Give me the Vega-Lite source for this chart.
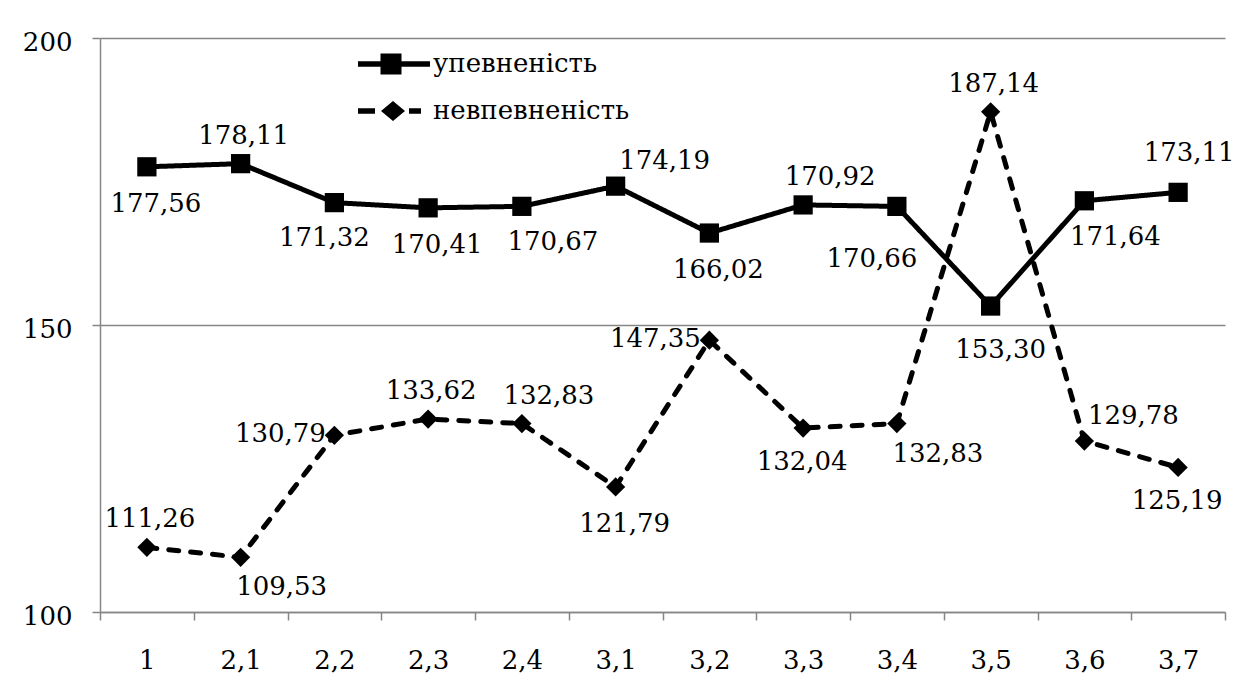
{
  "$schema": "https://vega.github.io/schema/vega-lite/v6.json",
  "autosize": {"type": "none"},
  "padding": {"left": 100, "top": 38, "right": 21, "bottom": 74},
  "width": 1125,
  "height": 574,
  "background": "white",
  "config": {
    "view": {"stroke": null},
    "locale": {"number": {"decimal": ",", "thousands": " ", "grouping": [3], "currency": ["", ""]}},
    "axis": {"labelFont": "DejaVu Serif", "labelFontSize": 26, "labelColor": "black", "domainColor": "#868686", "tickColor": "#868686", "gridColor": "#868686", "domainWidth": 1.5, "tickWidth": 1.5, "gridWidth": 1.5, "title": null},
    "legend": {"labelFont": "DejaVu Serif", "labelFontSize": 26, "labelColor": "black"},
    "text": {"font": "DejaVu Serif", "fontSize": 26, "color": "black", "align": "center", "baseline": "middle"}
  },
  "data": {"values": [
    {"c": "1", "s": "упевненість", "v": 177.56},
    {"c": "2,1", "s": "упевненість", "v": 178.11},
    {"c": "2,2", "s": "упевненість", "v": 171.32},
    {"c": "2,3", "s": "упевненість", "v": 170.41},
    {"c": "2,4", "s": "упевненість", "v": 170.67},
    {"c": "3,1", "s": "упевненість", "v": 174.19},
    {"c": "3,2", "s": "упевненість", "v": 166.02},
    {"c": "3,3", "s": "упевненість", "v": 170.92},
    {"c": "3,4", "s": "упевненість", "v": 170.66},
    {"c": "3,5", "s": "упевненість", "v": 153.30},
    {"c": "3,6", "s": "упевненість", "v": 171.64},
    {"c": "3,7", "s": "упевненість", "v": 173.11},
    {"c": "1", "s": "невпевненість", "v": 111.26},
    {"c": "2,1", "s": "невпевненість", "v": 109.53},
    {"c": "2,2", "s": "невпевненість", "v": 130.79},
    {"c": "2,3", "s": "невпевненість", "v": 133.62},
    {"c": "2,4", "s": "невпевненість", "v": 132.83},
    {"c": "3,1", "s": "невпевненість", "v": 121.79},
    {"c": "3,2", "s": "невпевненість", "v": 147.35},
    {"c": "3,3", "s": "невпевненість", "v": 132.04},
    {"c": "3,4", "s": "невпевненість", "v": 132.83},
    {"c": "3,5", "s": "невпевненість", "v": 187.14},
    {"c": "3,6", "s": "невпевненість", "v": 129.78},
    {"c": "3,7", "s": "невпевненість", "v": 125.19}
  ]},
  "encoding": {
    "x": {"field": "c", "type": "ordinal", "sort": null,
      "scale": {"type": "band", "domain": ["1","2,1","2,2","2,3","2,4","3,1","3,2","3,3","3,4","3,5","3,6","3,7"], "paddingInner": 0, "paddingOuter": 0},
      "axis": {"labelAngle": 0, "tickBand": "extent", "tickSize": 8, "labelPadding": 27, "grid": false}},
    "y": {"field": "v", "type": "quantitative",
      "scale": {"domain": [100, 200], "nice": false, "zero": false},
      "axis": {"values": [100, 150, 200], "format": "d", "tickSize": 8, "labelPadding": 20, "labelOffset": 4, "grid": true}}
  },
  "layer": [
    {
      "mark": {"type": "line", "color": "black", "strokeWidth": 5, "strokeCap": "round", "strokeJoin": "miter"},
      "encoding": {
        "strokeDash": {"field": "s", "type": "nominal", "scale": {"domain": ["упевненість", "невпевненість"], "range": [[1, 0], [10, 12]]}, "legend": null}
      }
    },
    {
      "mark": {"type": "point", "filled": true, "color": "black", "opacity": 1, "size": 370},
      "encoding": {
        "shape": {"field": "s", "type": "nominal", "scale": {"domain": ["упевненість", "невпевненість"], "range": ["square", "diamond"]}, "legend": null}
      }
    },
    {
      "mark": {"type": "point", "filled": true, "color": "black", "opacity": 0},
      "encoding": {
        "shape": {"field": "s", "type": "nominal",
          "scale": {"domain": ["упевненість", "невпевненість"], "range": [
            "M-3.6,-0.27H3.6V0.27H-3.6Z M-1.35,-1.05H0.75V1.05H-1.35Z",
            "M-3.6,-0.27H-1.9V0.27H-3.6Z M-1.3,0L-0.1,-1L1.1,0L-0.1,1Z M1.5,-0.27H2.7V0.27H1.5Z"
          ]},
          "legend": {"title": null, "orient": "none", "legendX": 281, "legendY": 13, "padding": 0,
            "symbolSize": 400, "symbolFillColor": "black", "symbolStrokeColor": "black", "symbolStrokeWidth": 0, "symbolOpacity": 1,
            "labelOffset": 26, "labelLimit": 400, "rowPadding": 21}
        }
      }
    },
    {
      "transform": [{"filter": "indexof(['упевненість|2,1','невпевненість|1','невпевненість|2,3','невпевненість|3,5'], datum.s + '|' + datum.c) >= 0"}],
      "mark": {"type": "text", "dx": 3, "dy": -28},
      "encoding": {"text": {"field": "v", "type": "quantitative", "format": ".2f"}}
    },
    {
      "transform": [{"filter": "indexof(['упевненість|3,7'], datum.s + '|' + datum.c) >= 0"}],
      "mark": {"type": "text", "dx": 11, "dy": -39},
      "encoding": {"text": {"field": "v", "type": "quantitative", "format": ".2f"}}
    },
    {
      "transform": [{"filter": "indexof(['упевненість|3,3','невпевненість|2,4'], datum.s + '|' + datum.c) >= 0"}],
      "mark": {"type": "text", "dx": 27, "dy": -28},
      "encoding": {"text": {"field": "v", "type": "quantitative", "format": ".2f"}}
    },
    {
      "transform": [{"filter": "indexof(['упевненість|3,1','невпевненість|3,6'], datum.s + '|' + datum.c) >= 0"}],
      "mark": {"type": "text", "dx": 49, "dy": -25},
      "encoding": {"text": {"field": "v", "type": "quantitative", "format": ".2f"}}
    },
    {
      "transform": [{"filter": "indexof(['упевненість|2,2'], datum.s + '|' + datum.c) >= 0"}],
      "mark": {"type": "text", "dx": -10, "dy": 35},
      "encoding": {"text": {"field": "v", "type": "quantitative", "format": ".2f"}}
    },
    {
      "transform": [{"filter": "indexof(['невпевненість|3,3','невпевненість|3,7'], datum.s + '|' + datum.c) >= 0"}],
      "mark": {"type": "text", "dx": -1, "dy": 34},
      "encoding": {"text": {"field": "v", "type": "quantitative", "format": ".2f"}}
    },
    {
      "transform": [{"filter": "indexof(['упевненість|1','упевненість|2,3','упевненість|3,2','невпевненість|3,1'], datum.s + '|' + datum.c) >= 0"}],
      "mark": {"type": "text", "dx": 9, "dy": 37},
      "encoding": {"text": {"field": "v", "type": "quantitative", "format": ".2f"}}
    },
    {
      "transform": [{"filter": "indexof(['упевненість|3,5'], datum.s + '|' + datum.c) >= 0"}],
      "mark": {"type": "text", "dx": 10, "dy": 44},
      "encoding": {"text": {"field": "v", "type": "quantitative", "format": ".2f"}}
    },
    {
      "transform": [{"filter": "indexof(['упевненість|2,4','упевненість|3,6'], datum.s + '|' + datum.c) >= 0"}],
      "mark": {"type": "text", "dx": 31, "dy": 36},
      "encoding": {"text": {"field": "v", "type": "quantitative", "format": ".2f"}}
    },
    {
      "transform": [{"filter": "indexof(['невпевненість|2,1','невпевненість|3,4'], datum.s + '|' + datum.c) >= 0"}],
      "mark": {"type": "text", "dx": 41, "dy": 30},
      "encoding": {"text": {"field": "v", "type": "quantitative", "format": ".2f"}}
    },
    {
      "transform": [{"filter": "indexof(['невпевненість|2,2','невпевненість|3,2'], datum.s + '|' + datum.c) >= 0"}],
      "mark": {"type": "text", "dx": -54, "dy": -1},
      "encoding": {"text": {"field": "v", "type": "quantitative", "format": ".2f"}}
    },
    {
      "transform": [{"filter": "indexof(['упевненість|3,4'], datum.s + '|' + datum.c) >= 0"}],
      "mark": {"type": "text", "dx": -25, "dy": 53},
      "encoding": {"text": {"field": "v", "type": "quantitative", "format": ".2f"}}
    }
  ],
  "resolve": {"scale": {"shape": "independent"}}
}
